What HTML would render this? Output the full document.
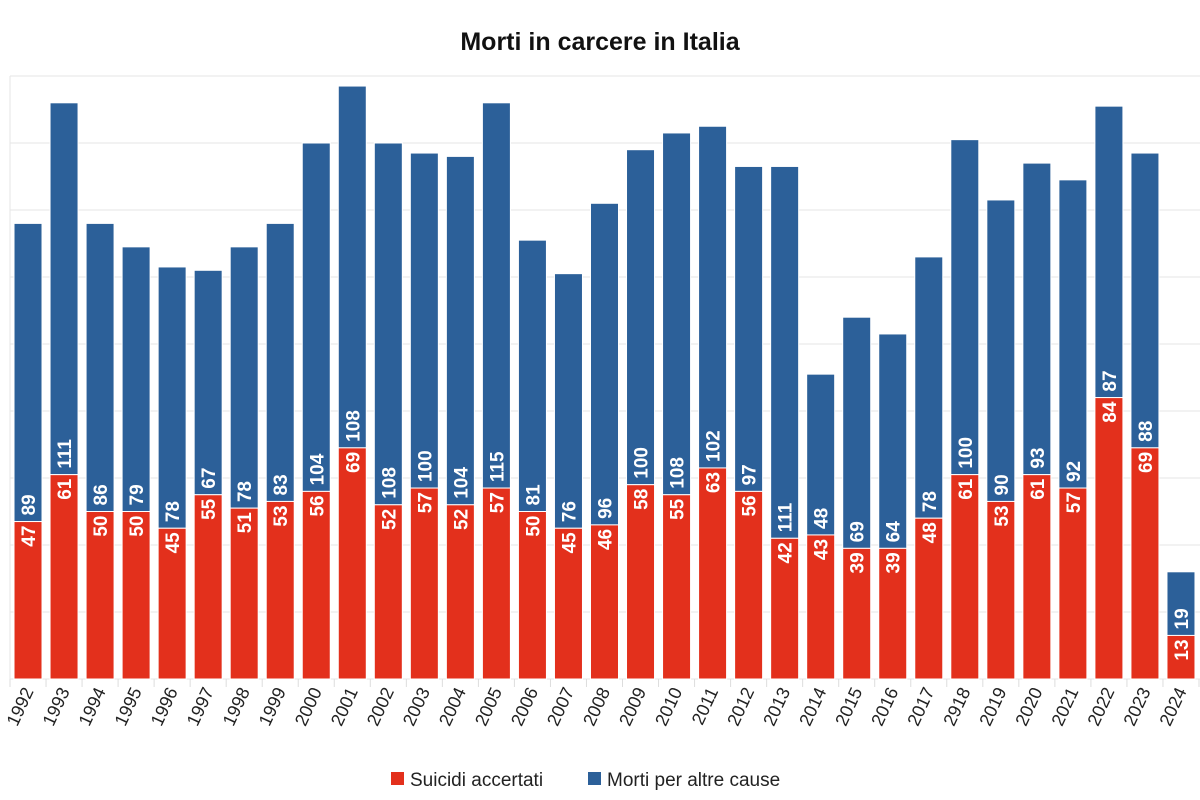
<!DOCTYPE html>
<html><head><meta charset="utf-8"><style>
html,body{margin:0;padding:0;background:#fff;}
svg{display:block;font-family:"Liberation Sans",sans-serif;}
</style></head><body>
<svg id="c" width="1200" height="800" xmlns="http://www.w3.org/2000/svg">
<text x="600" y="50" text-anchor="middle" font-size="25" font-weight="bold" fill="#111">Morti in carcere in Italia</text>
<g id="g"></g>
<rect x="391" y="772" width="13" height="13" fill="#e3301c"/>
<text x="410" y="786" font-size="19" fill="#222">Suicidi accertati</text>
<rect x="588" y="772" width="13" height="13" fill="#2c6099"/>
<text x="607" y="786" font-size="19" fill="#222">Morti per altre cause</text>
</svg>
<script>
var years=["1992","1993","1994","1995","1996","1997","1998","1999","2000","2001","2002","2003","2004","2005","2006","2007","2008","2009","2010","2011","2012","2013","2014","2015","2016","2017","2918","2019","2020","2021","2022","2023","2024"];
var red=[47,61,50,50,45,55,51,53,56,69,52,57,52,57,50,45,46,58,55,63,56,42,43,39,39,48,61,53,61,57,84,69,13];
var blue=[89,111,86,79,78,67,78,83,104,108,108,100,104,115,81,76,96,100,108,102,97,111,48,69,64,78,100,90,93,92,87,88,19];
var s="",B=679,k=3.35,x0=10,cw=36.03;
for(var i=0;i<=9;i++){var y=B-i*67;s+='<line x1="10" x2="1200" y1="'+y+'" y2="'+y+'" stroke="#e6e6e6" stroke-width="1"/>';}
s+='<line x1="10" x2="10" y1="76" y2="679" stroke="#e6e6e6"/>';
for(var i=0;i<33;i++){
 var cx=x0+cw*i+cw/2, bx=cx-14;
 var rt=B-red[i]*k, bt=rt-blue[i]*k;
 s+='<rect x="'+bx+'" y="'+bt+'" width="28" height="'+(blue[i]*k)+'" fill="#2c6099" stroke="#fff" stroke-width="1"/>';
 s+='<rect x="'+bx+'" y="'+rt+'" width="28" height="'+(red[i]*k)+'" fill="#e3301c" stroke="#fff" stroke-width="1"/>';
 s+='<text transform="translate('+(cx+7)+','+(rt-6)+') rotate(-90)" text-anchor="start" font-size="19" font-weight="bold" fill="#fff">'+blue[i]+'</text>';
 s+='<text transform="translate('+(cx+7)+','+(rt+4)+') rotate(-90)" text-anchor="end" font-size="19" font-weight="bold" fill="#fff">'+red[i]+'</text>';
 var tx=x0+cw*i;
 s+='<line x1="'+tx+'" x2="'+tx+'" y1="679" y2="687" stroke="#ddd"/>';
 s+='<text transform="translate('+(cx+6)+',691) rotate(-65)" text-anchor="end" font-size="18" fill="#222">'+years[i]+'</text>';
}
s+='<line x1="1199" x2="1199" y1="679" y2="687" stroke="#ddd"/>';
document.getElementById("g").innerHTML=s;
</script>
</body></html>
